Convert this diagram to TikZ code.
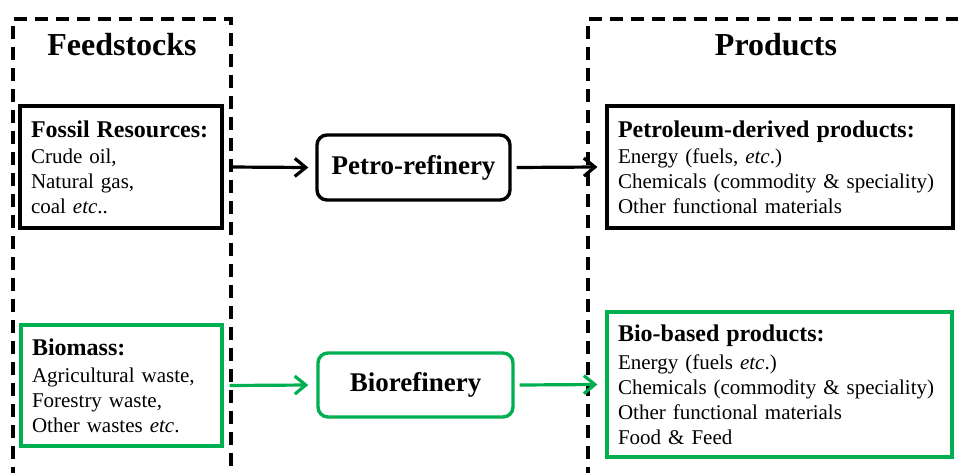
\documentclass[tikz,border=0pt]{standalone}
\usepackage{fontspec}
\setmainfont{Liberation Serif}
\usetikzlibrary{arrows.meta}
\definecolor{bgreen}{RGB}{0,176,80}
\begin{document}
\begin{tikzpicture}[x=1pt,y=-1pt,
  dashbox/.style={line width=3.6pt, dash pattern=on 13pt off 8pt},
  title/.style={font=\fontsize{32}{38}\selectfont\bfseries, anchor=base},
  listbox/.style={draw, line width=3.2pt, align=left, inner xsep=11pt, inner ysep=0pt,
    font=\fontsize{21}{25}\selectfont},
  refbox/.style={draw, line width=3.4pt, rounded corners=10pt, inner sep=0pt,
    font=\fontsize{27}{32}\selectfont\bfseries},
  arr/.style={line width=3.2pt, -{Straight Barb[length=11pt,width=18pt]}}
]
\useasboundingbox (0,0) rectangle (958,472);
\clip (0,0) rectangle (958,472);
% dashed frames
\draw[dashbox] (13,480) -- (13,19) -- (231,19) -- (231,480);
\draw[dashbox] (588,480) -- (588,19) -- (970,19);
% titles
\node[title] (feed) at (122,55) {Feedstocks};
\node[title] (prod) at (776,55) {Products};
% left boxes
\node[listbox, text width=180pt, minimum width=202pt, minimum height=122pt] (fossil) at (121,167)
  {{\fontsize{24}{28}\selectfont\bfseries Fossil Resources:}\\[1pt]
   Crude oil,\\ Natural gas,\\ coal \textit{etc}..};
\node[listbox, draw=bgreen, text width=179pt, minimum width=201pt, minimum height=121pt] (biomass) at (121.5,385.5)
  {{\fontsize{24}{28}\selectfont\bfseries Biomass:}\\[2pt]
   Agricultural waste,\\ Forestry waste,\\ Other wastes \textit{etc}.};
% refineries
\node[refbox, minimum width=193pt, minimum height=65pt] (petro) at (413.5,167.5) {Petro-refinery};
\node[refbox, draw=bgreen, minimum width=195pt, minimum height=64pt] (bio) at (415.5,385) {Biorefinery};
% product boxes
\node[listbox, text width=324pt, minimum width=346pt, minimum height=122pt] (petprod) at (780,167)
  {{\fontsize{24}{28}\selectfont\bfseries Petroleum-derived products:}\\[1pt]
   Energy (fuels, \textit{etc}.)\\ Chemicals (commodity \& speciality)\\ Other functional materials};
\node[listbox, draw=bgreen, text width=323pt, minimum width=345pt, minimum height=145pt] (bioprod) at (779.5,384.5)
  {{\fontsize{24}{28}\selectfont\bfseries Bio-based products:}\\[3pt]
   Energy (fuels \textit{etc}.)\\ Chemicals (commodity \& speciality)\\ Other functional materials\\ Food \& Feed};
% arrows
\draw[arr] ([xshift=6pt]fossil.east) -- ([xshift=-7pt]petro.west);
\draw[arr] ([xshift=5pt]petro.east) -- ([xshift=-8pt]petprod.west);
\draw[arr, bgreen] ([xshift=6pt]biomass.east) -- ([xshift=-8pt]bio.west);
\draw[arr, bgreen] ([xshift=5pt]bio.east) -- ([xshift=-8pt]bioprod.west);
\end{tikzpicture}
\end{document}
